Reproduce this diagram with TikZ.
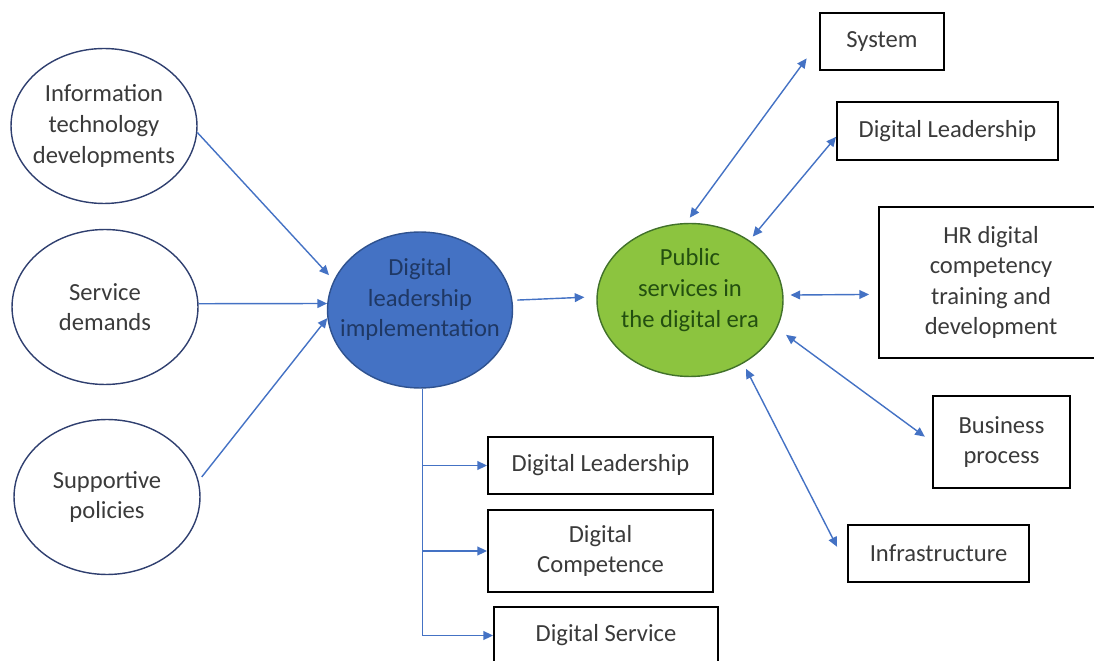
\documentclass[tikz,border=0pt]{standalone}
\usepackage{fontspec}
\setmainfont{Carlito}
\usepackage{xcolor}
\usepackage{tikz}
\usetikzlibrary{shapes.geometric,arrows.meta}
\definecolor{linkblue}{HTML}{4472C4}
\definecolor{ovalline}{HTML}{2F3F6F}
\definecolor{darktext}{HTML}{3A3A3A}
\definecolor{leadfill}{HTML}{4472C4}
\definecolor{leadline}{HTML}{2F528F}
\definecolor{leadtext}{HTML}{1F3864}
\definecolor{publicfill}{HTML}{8CC43F}
\definecolor{publicline}{HTML}{41712A}
\definecolor{publictext}{HTML}{234F10}

\begin{document}
\begin{tikzpicture}[x=0.02cm, y=-0.02cm,
    font=\fontsize{14pt}{17.4pt}\selectfont,
    factor/.style={draw=ovalline, ellipse, line width=0.8pt, minimum width=3.72cm, minimum height=3.1cm, inner sep=-0.4cm, align=center, text=darktext},
    aspect/.style={draw=black, line width=1.1pt, align=center, text=darktext},
    link/.style={draw=linkblue, line width=0.8pt, -{Triangle[length=5.5pt, width=5pt]}},
    twoway/.style={draw=linkblue, line width=0.8pt, {Triangle[length=5.5pt, width=5pt]}-{Triangle[length=5.5pt, width=5pt]}}]
    \useasboundingbox (0,0) rectangle (1094,661);

    % Nodes
    \node[factor] (it) at (104,126) {Information\\technology\\developments};
    \node[factor] (demand) at (105,307) {Service\\demands};
    \node[factor] (policy) at (107,497) {Supportive\\policies};
    \node[factor, fill=leadfill, draw=leadline, text=leadtext, text depth=0.5cm, minimum width=3.7cm, minimum height=3.12cm] (dli) at (420,310) {Digital\\leadership\\implementation};
    \node[factor, fill=publicfill, draw=publicline, text=publictext, text depth=0.48cm, minimum width=3.72cm, minimum height=3.06cm] (pub) at (690,300) {Public\\services in\\the digital era};

    \node[aspect, minimum width=2.48cm, minimum height=1.14cm] (sys) at (882,41.5) {System};
    \node[aspect, minimum width=4.42cm, minimum height=1.16cm] (dlr) at (947.5,131) {Digital Leadership};
    \node[aspect, minimum width=4.48cm, minimum height=3.02cm] (hr) at (991,282.5) {HR digital\\competency\\training and\\development};
    \node[aspect, minimum width=2.74cm, minimum height=1.84cm] (bp) at (1001.5,442) {Business\\process};
    \node[aspect, minimum width=3.62cm, minimum height=1.14cm] (infra) at (938.5,553.5) {Infrastructure};

    \node[aspect, minimum width=4.5cm, minimum height=1.14cm] (dl) at (600.5,465.5) {Digital Leadership};
    \node[aspect, minimum width=4.5cm, minimum height=1.64cm] (dc) at (600.5,551) {Digital\\Competence};
    \node[aspect, minimum width=4.48cm, minimum height=1.14cm] (ds) at (606,635.5) {Digital Service};

    % Arrows
    \draw[link, shorten >=0.14cm] (it.-4) -- (dli.161);
    \draw[link] (demand.2) -- (dli.176);
    \draw[link, shorten <=0.1cm] (policy.10) -- (dli.185);
    \draw[link, shorten <=0.1cm, shorten >=0.24cm] (dli.6) -- (pub.178);

    \draw[link] (dli.-88) |- (ds.west);
    \draw[link] (dli.-88 |- dl.west) -- (dl.west);
    \draw[link] (dli.-88 |- dc.west) -- (dc.west);

    \draw[twoway, shorten <=0.13cm, shorten >=0.42cm] (pub.93) -- (sys.west);
    \draw[twoway, shorten <=0.1cm] (pub.45) -- (dlr.183.5);
    \draw[twoway, shorten <=0.14cm, shorten >=0.18cm] (pub.3) -- (hr.186.4);
    \draw[twoway, shorten <=0.22cm, shorten >=0.18cm] (pub.-18) -- (bp.west);
    \draw[twoway, shorten <=0.12cm, shorten >=0.44cm] (pub.-50) -- (infra.188);
\end{tikzpicture}
\end{document}
